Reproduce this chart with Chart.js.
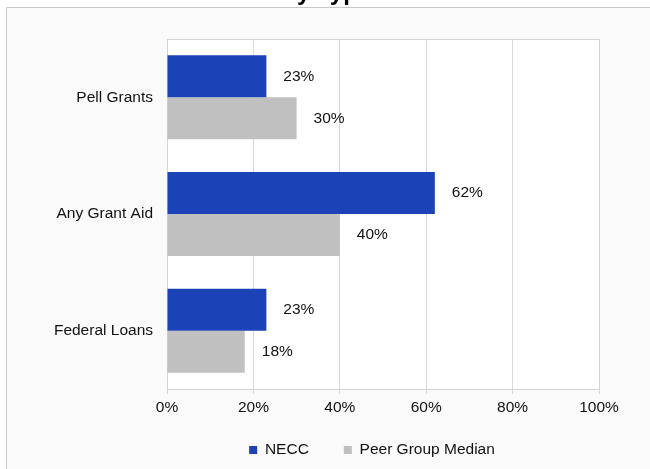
<!DOCTYPE html>
<html><head><meta charset="utf-8">
<script src="https://cdn.jsdelivr.net/npm/chart.js@4/dist/chart.umd.min.js"></script>
<style>html,body{margin:0;padding:0;background:#fff;overflow:hidden}#wrap{position:relative;width:650px;height:469px}canvas{display:block}</style>
</head><body><div id="wrap"><canvas id="c" width="650" height="469"></canvas></div>
<script>
const titleText = 'Student Aid by Type of Aid';
const categories = ['Pell Grants', 'Any Grant Aid', 'Federal Loans'];
const seriesNames = ['NECC', 'Peer Group Median'];
const neccValues = [23, 62, 23];
const peerValues = [30, 40, 18];
const xTickValues = [0, 20, 40, 60, 80, 100];

const FONT = "'Liberation Sans', Arial, sans-serif";
const TEXT = '#111111';

const framePlugin = {
  id: 'frame',
  afterLayout(chart) {
    // centre the legend under the whole framed chart, as in the original
    const lg = chart.legend;
    lg.left = 145; lg.right = 599; lg.width = lg.right - lg.left;
    lg.top = 407.25; lg.bottom = chart.height; lg.height = lg.bottom - lg.top;
  },
  beforeDraw(chart) {
    const ctx = chart.ctx, w = chart.width, h = chart.height, a = chart.chartArea;
    ctx.save();
    ctx.fillStyle = '#ffffff';
    ctx.fillRect(0, 0, w, h);
    ctx.fillStyle = '#fafafa';
    ctx.fillRect(6, 8, w, h);
    ctx.strokeStyle = '#c8c8c8';
    ctx.lineWidth = 1;
    ctx.beginPath();
    ctx.moveTo(6.5, h + 1); ctx.lineTo(6.5, 7.5); ctx.lineTo(w + 1, 7.5);
    ctx.stroke();
    ctx.fillStyle = '#ffffff';
    ctx.fillRect(a.left, a.top, a.right - a.left, a.bottom - a.top);
    // title (clipped at top of the picture)
    ctx.fillStyle = '#000000';
    ctx.font = "bold 24px " + FONT;
    ctx.textAlign = 'left';
    ctx.textBaseline = 'alphabetic';
    ctx.fillText(titleText, 141, -0.5);
    ctx.restore();
  },
  beforeDatasetsDraw(chart) {
    const ctx = chart.ctx, a = chart.chartArea;
    ctx.save();
    ctx.strokeStyle = '#d4d4d4';
    ctx.lineWidth = 1;
    ctx.strokeRect(Math.round(a.left) + 0.5, Math.round(a.top) + 0.5, Math.round(a.right - a.left), Math.round(a.bottom - a.top));
    ctx.restore();
  },
  afterDatasetsDraw(chart) {
    const ctx = chart.ctx;
    ctx.save();
    ctx.fillStyle = TEXT;
    ctx.font = "15.5px " + FONT;
    ctx.textAlign = 'left';
    ctx.textBaseline = 'middle';
    chart.data.datasets.forEach((ds, di) => {
      const meta = chart.getDatasetMeta(di);
      meta.data.forEach((el, i) => {
        ctx.fillText(ds.data[i] + '%', el.x + 17, el.y);
      });
    });
    ctx.restore();
  }
};

new Chart(document.getElementById('c'), {
  type: 'bar',
  data: {
    labels: categories,
    datasets: [
      { label: seriesNames[0], data: neccValues, backgroundColor: '#1b43b7', borderWidth: 0 },
      { label: seriesNames[1], data: peerValues, backgroundColor: '#c0c0c0', borderWidth: 0 }
    ]
  },
  options: {
    indexAxis: 'y',
    responsive: false,
    animation: false,
    devicePixelRatio: 1,
    categoryPercentage: 0.72,
    barPercentage: 1,
    layout: { padding: { top: 39, left: 52, right: 51, bottom: 1 } },
    plugins: {
      title: { display: false },
      tooltip: { enabled: false },
      legend: {
        position: 'bottom',
        maxHeight: 45,
        labels: {
          boxWidth: 8, boxHeight: 8, padding: 35,
          color: TEXT,
          font: { family: FONT, size: 15.5 }
        }
      }
    },
    scales: {
      x: {
        min: 0, max: 100,
        afterBuildTicks: s => { s.ticks = xTickValues.map(v => ({ value: v })); },
        afterFit: s => { s.height = 34; },
        grid: { color: '#d9d9d9', tickLength: 5, drawTicks: true },
        border: { display: false },
        ticks: { color: TEXT, padding: 4, font: { family: FONT, size: 15.5 }, callback: v => v + '%', maxRotation: 0 }
      },
      y: {
        afterFit: s => { s.width = 115; },
        grid: { display: false, drawTicks: false },
        border: { display: false },
        ticks: { color: TEXT, padding: 14, font: { family: FONT, size: 15.5 } }
      }
    }
  },
  plugins: [framePlugin]
});
</script>
</body></html>
